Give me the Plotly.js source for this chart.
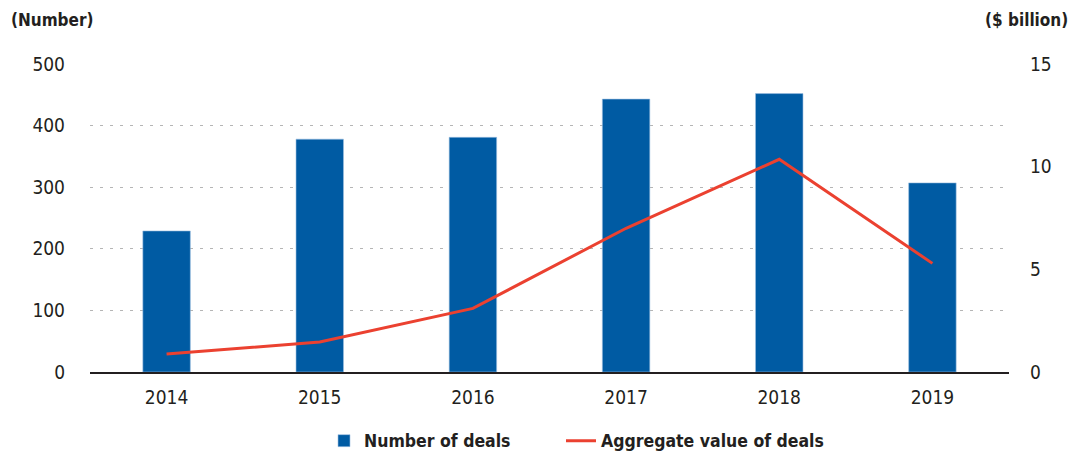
<!DOCTYPE html>
<html>
<head>
<meta charset="utf-8">
<script src="https://cdn.plot.ly/plotly-3.0.1.min.js"></script>
<style>html,body{margin:0;padding:0;background:#fff;}#chart{width:1074px;height:453px;}</style>
</head>
<body>
<div id="chart"></div>
<script>
const years = ["2014", "2015", "2016", "2017", "2018", "2019"];
const numberOfDeals = [229, 378, 381, 443, 452, 307];
const aggregateValue = [0.88, 1.46, 3.10, 7.0, 10.36, 5.29];
const leftTicks = [0, 100, 200, 300, 400, 500];
const rightTicks = [0, 5, 10, 15];

const FONT = '"Liberation Sans Narrow", "DejaVu Sans Condensed", "Roboto", sans-serif';

const traces = [
  {
    type: 'bar', x: years, y: numberOfDeals, name: 'Number of deals',
    marker: {color: '#005BA3', line: {color: '#9DBFE0', width: 0.6}},
    width: 0.31, yaxis: 'y', legend: 'legend'
  },
  {
    type: 'scatter', mode: 'lines', x: years, y: aggregateValue, name: 'Aggregate value of deals',
    line: {color: '#EB4130', width: 3}, yaxis: 'y2', legend: 'legend2'
  }
];

const legendCommon = {
  orientation: 'h', xref: 'container', yref: 'container', xanchor: 'left',
  y: 0.027, yanchor: 'middle', bgcolor: 'rgba(0,0,0,0)', borderwidth: 0,
  font: {family: FONT, size: 17.5, color: '#231F20', weight: 'bold'}
};

const layout = {
  width: 1074, height: 453,
  margin: {l: 90, r: 65, t: 64, b: 81},
  paper_bgcolor: '#fff', plot_bgcolor: '#fff',
  font: {family: FONT, size: 19, color: '#231F20'},
  showlegend: true,
  xaxis: {
    type: 'category', showgrid: false, zeroline: false,
    showline: true, linecolor: '#231F20', linewidth: 1.5,
    ticks: '', ticklabelstandoff: 8, automargin: false,
    tickfont: {family: FONT, size: 19, color: '#231F20'}
  },
  yaxis: {
    range: [0, 500], tickvals: leftTicks, ticktext: leftTicks.map(String),
    showgrid: true, gridcolor: '#B5B5B5', gridwidth: 1, griddash: '3px,7px',
    zeroline: false, showline: false, ticks: '', ticklabelstandoff: 24, automargin: false,
    tickfont: {family: FONT, size: 19, color: '#231F20'}
  },
  yaxis2: {
    overlaying: 'y', side: 'right', range: [0, 15],
    tickvals: rightTicks, ticktext: rightTicks.map(String),
    showgrid: false, zeroline: false, showline: false, ticks: '', ticklabelstandoff: 20, automargin: false,
    tickfont: {family: FONT, size: 19, color: '#231F20'}
  },
  legend: Object.assign({}, legendCommon, {x: 324 / 1074}),
  legend2: Object.assign({}, legendCommon, {x: 561 / 1074}),
  annotations: [
    {text: '<b>(Number)</b>', xref: 'paper', yref: 'paper', x: 0, xshift: -81, y: 1, yshift: 44,
     xanchor: 'left', yanchor: 'middle', showarrow: false, font: {family: FONT, size: 17, color: '#231F20'}},
    {text: '<b>($ billion)</b>', xref: 'paper', yref: 'paper', x: 1, xshift: 61, y: 1, yshift: 44,
     xanchor: 'right', yanchor: 'middle', showarrow: false, font: {family: FONT, size: 17, color: '#231F20'}}
  ]
};

Plotly.newPlot('chart', traces, layout, {displayModeBar: false, staticPlot: true});
</script>
</body>
</html>
